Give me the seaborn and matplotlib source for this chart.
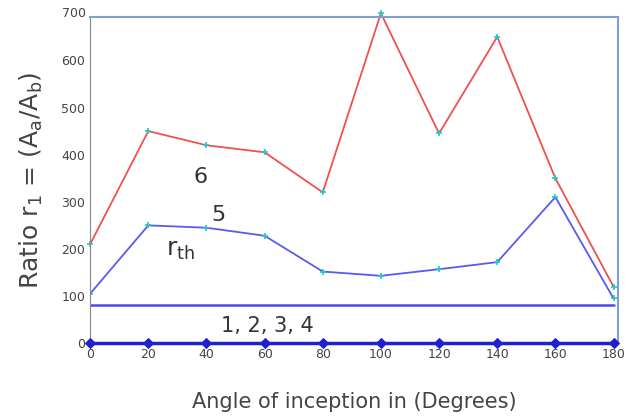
import matplotlib
matplotlib.use("Agg")
import matplotlib.pyplot as plt
import seaborn as sns
import pandas as pd

angles = [0, 20, 40, 60, 80, 100, 120, 140, 160, 180]
ratio_6 = [210, 450, 420, 405, 320, 700, 445, 650, 350, 120]
ratio_5 = [105, 250, 245, 228, 152, 143, 157, 172, 310, 95]
ratio_1234 = [0, 0, 0, 0, 0, 0, 0, 0, 0, 0]
r_th = 80
y_ticks = [0, 100, 200, 300, 400, 500, 600, 700]

sns.set_style("white")
fig = plt.figure(figsize=(6.26, 4.16), dpi=100)
ax = fig.add_axes([0.144, 0.175, 0.843, 0.784])

df = pd.DataFrame({"angle": angles, "r6": ratio_6, "r5": ratio_5, "r0": ratio_1234})

sns.lineplot(data=df, x="angle", y="r6", ax=ax, color="#f05050", lw=1.3,
             marker="+", markersize=5, markeredgecolor="#20c8c8", markeredgewidth=1.2,
             clip_on=False)
sns.lineplot(data=df, x="angle", y="r5", ax=ax, color="#5a5af0", lw=1.3,
             marker="+", markersize=5, markeredgecolor="#20c8c8", markeredgewidth=1.2)
ax.axhline(r_th, color="#4a4af0", lw=1.8, xmin=0, xmax=0.993)
sns.lineplot(data=df, x="angle", y="r0", ax=ax, color="#2020d0", lw=2.5,
             marker="D", markersize=5, markeredgecolor="#2020d0", clip_on=False, zorder=5)

ax.set_xlim(0, 181.5)
ax.set_ylim(0, 692)
ax.set_xticks(angles)
ax.set_yticks(y_ticks[:-1])
ax.tick_params(axis="both", labelsize=9, colors="#555555", direction="in", length=3)
ax.tick_params(axis="both", labelcolor="#444444")
ax.text(-1.5, 700, "700", ha="right", va="center", fontsize=9, color="#444444", clip_on=False)

for side in ["top", "right"]:
    ax.spines[side].set_color("#7f9fd8")
    ax.spines[side].set_linewidth(1.5)
ax.spines["left"].set_color("#888888")
ax.spines["bottom"].set_color("#2020d0")

ax.text(38, 352, "6", fontsize=16, color="#333333", ha="center", va="center")
ax.text(44, 272, "5", fontsize=16, color="#333333", ha="center", va="center")
ax.text(31, 198, r"r$_{\mathregular{th}}$", fontsize=18, color="#333333", ha="center", va="center")
ax.text(61, 36, "1, 2, 3, 4", fontsize=15, color="#333333", ha="center", va="center")

ax.set_xlabel("Angle of inception in (Degrees)", fontsize=15, color="#444444", labelpad=22)
ax.set_ylabel(r"Ratio r$_{\mathregular{1}}$ = (A$_{\mathregular{a}}$/A$_{\mathregular{b}}$)",
              fontsize=18, color="#444444", labelpad=12)

fig.savefig("out.png", dpi=100)
